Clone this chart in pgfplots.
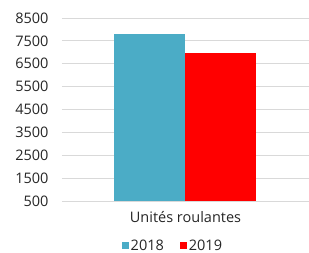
\documentclass[border=0pt]{standalone}
\usepackage{pgfplots}
\pgfplotsset{compat=1.18}
\usepackage{fontspec}
\setmainfont{Open Sans}
\definecolor{c2018}{HTML}{4BACC6}
\definecolor{c2019}{HTML}{FF0000}
\definecolor{gridc}{HTML}{D9D9D9}
\begin{document}
\begin{tikzpicture}
\useasboundingbox (0,0) rectangle (309pt,253pt);
\begin{axis}[
  at={(62pt,52pt)}, anchor=south west,
  scale only axis, width=247pt, height=183pt,
  ybar=0pt, bar width=71pt,
  xmin=-1, xmax=1, ymin=500, ymax=8500,
  xtick={0}, xticklabels={Unités roulantes},
  ytick={500,1500,2500,3500,4500,5500,6500,7500,8500},
  ymajorgrids, grid style={gridc, line width=0.8pt},
  axis line style={draw=none},
  major tick style={draw=none},
  tick label style={font=\fontsize{14.5}{16}\selectfont, text=black!85},
  /pgf/number format/assume math mode=true,
  /pgf/number format/1000 sep={},
  yticklabel style={xshift=-10pt},
  xticklabel style={yshift=-3pt},
  legend style={at={(0.449,-0.245)}, anchor=center, draw=none, legend columns=2,
    font=\fontsize{14.5}{16}\selectfont, text=black!85,
    /tikz/column 2/.style={column sep=14pt}},
  legend image code/.code={\fill[#1] (-5pt,-3.5pt) rectangle (2pt,3.5pt);},
]
\addplot[fill=c2018, draw=none] coordinates {(0,7780)};
\addplot[fill=c2019, draw=none] coordinates {(0,6950)};
\legend{2018,2019}
\end{axis}
\end{tikzpicture}
\end{document}
